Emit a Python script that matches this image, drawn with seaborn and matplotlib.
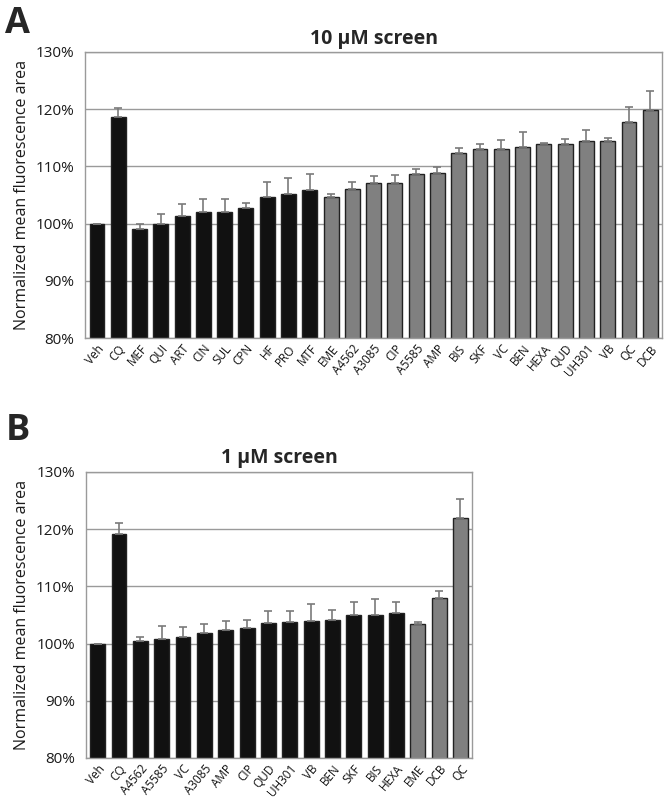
import numpy as np
import pandas as pd
import seaborn as sns
import matplotlib.pyplot as plt
from matplotlib.ticker import PercentFormatter

sns.set_theme(style='white')
plt.rcParams['font.family'] = ['Open Sans', 'DejaVu Sans']

# panel A: 10 uM screen
names_a = ['Veh', 'CQ', 'MEF', 'QUI', 'ART', 'CIN', 'SUL', 'CPN', 'HF', 'PRO', 'MTF',
           'EME', 'A4562', 'A3085', 'CIP', 'A5585', 'AMP', 'BIS', 'SKF', 'VC', 'BEN',
           'HEXA', 'QUD', 'UH301', 'VB', 'QC', 'DCB']
means_a = [100.0, 118.7, 99.1, 100.0, 101.3, 102.1, 102.1, 102.8, 104.6, 105.2, 105.9,
           104.7, 106.1, 107.1, 107.1, 108.7, 108.8, 112.3, 113.0, 113.0, 113.4,
           113.9, 113.9, 114.4, 114.5, 117.7, 119.9]
errs_a = [0.0, 1.5, 0.9, 1.6, 2.2, 2.2, 2.2, 0.8, 2.7, 2.8, 2.7,
          0.4, 1.1, 1.2, 1.4, 0.9, 1.1, 0.9, 0.9, 1.6, 2.6,
          0.2, 0.9, 2.0, 0.4, 2.7, 3.2]
group_a = ['ctrl'] * 11 + ['hit'] * 16

# panel B: 1 uM screen
names_b = ['Veh', 'CQ', 'A4562', 'A5585', 'VC', 'A3085', 'AMP', 'CIP', 'QUD', 'UH301',
           'VB', 'BEN', 'SKF', 'BIS', 'HEXA', 'EME', 'DCB', 'QC']
means_b = [100.0, 119.2, 100.5, 100.8, 101.1, 101.9, 102.4, 102.7, 103.6, 103.8,
           103.9, 104.1, 105.0, 105.0, 105.3, 103.4, 107.9, 121.9]
errs_b = [0.0, 1.8, 0.6, 2.3, 1.8, 1.5, 1.6, 1.4, 2.0, 1.9,
          3.0, 1.8, 2.2, 2.7, 1.9, 0.3, 1.3, 3.4]
group_b = ['ctrl'] * 15 + ['hit'] * 3

palette = {'ctrl': '#111111', 'hit': '#808080'}


def draw_panel(ax, names, means, errs, groups, title):
    df = pd.DataFrame({'name': names, 'mean': means, 'group': groups})
    sns.barplot(data=df, x='name', y='mean', hue='group', palette=palette,
                dodge=False, width=0.7, errorbar=None, legend=False,
                edgecolor='#222222', linewidth=1.0, ax=ax, zorder=2)
    x = np.arange(len(names))
    ax.errorbar(x, means, yerr=[np.zeros(len(errs)), errs], fmt='none',
                ecolor='#7a7a7a', elinewidth=1.2, capsize=3, capthick=1.2, zorder=3)
    ax.set_ylim(80, 130)
    ax.set_xlim(-0.55, len(names) - 0.45)
    ax.set_yticks([80, 90, 100, 110, 120, 130])
    ax.yaxis.set_major_formatter(PercentFormatter(decimals=0))
    ax.yaxis.grid(True, color='#9a9a9a', linewidth=1.0, zorder=0)
    ax.set_axisbelow(True)
    for s in ax.spines.values():
        s.set_color('#9a9a9a')
        s.set_linewidth(1.0)
    ax.set_xlabel('')
    ax.set_ylabel('Normalized mean fluorescence area', fontsize=11.5, color='#1a1a1a')
    ax.tick_params(axis='y', labelsize=11, labelcolor='#1a1a1a', length=0, pad=8)
    ax.tick_params(axis='x', labelsize=8.5, labelcolor='#111111', length=0, pad=3)
    plt.setp(ax.get_xticklabels(), rotation=50, ha='right', rotation_mode='anchor')
    ax.set_title(title, fontsize=14, fontweight='bold', pad=6)


fig = plt.figure(figsize=(6.66, 8.06), dpi=100)
ax_a = fig.add_axes([0.128, 0.5806, 0.866, 0.355])
ax_b = fig.add_axes([0.129, 0.0596, 0.580, 0.355])

draw_panel(ax_a, names_a, means_a, errs_a, group_a, '10 µM screen')
draw_panel(ax_b, names_b, means_b, errs_b, group_b, '1 µM screen')

fig.text(0.008, 0.993, 'A', fontsize=26, fontweight='bold', va='top', ha='left')
fig.text(0.008, 0.488, 'B', fontsize=26, fontweight='bold', va='top', ha='left')

fig.savefig('out.png', dpi=100)
